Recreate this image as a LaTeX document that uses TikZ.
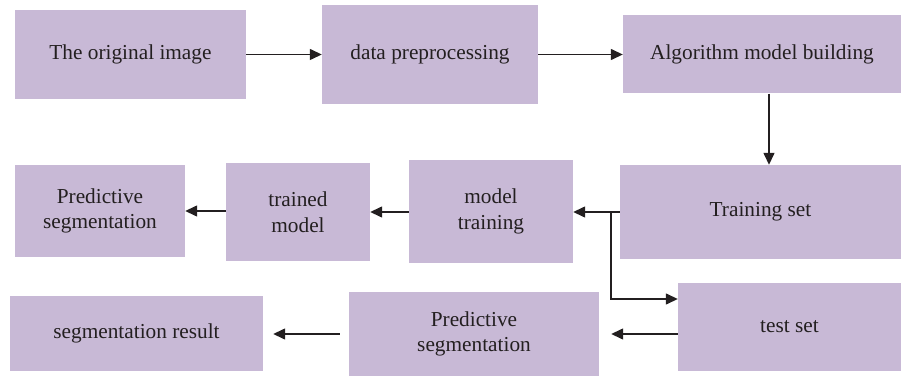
\documentclass[tikz,border=0pt]{standalone}
\usepackage{fontspec}
\setmainfont{Liberation Serif}
\usetikzlibrary{arrows.meta, positioning}
\definecolor{boxfill}{HTML}{C8B9D6}
\definecolor{inkdark}{HTML}{231F20}

\begin{document}
\begin{tikzpicture}[x=1pt, y=-1pt]
			\tikzset {box/.style={fill=boxfill, text=inkdark, align=center, inner sep=0pt, font=\fontsize{21.3}{25.5}\selectfont},
				arr/.style={-{Triangle[length=12pt, width=11pt]}, line width=1.4pt, draw=inkdark} }

			\useasboundingbox (0,0) rectangle (903,377);

			\node[box, minimum width=231pt, minimum height=89pt] (orig) at (130.5,54.5) {The original image};
			\node[box, minimum width=216pt, minimum height=99pt] (prep) at (430,54.5) {data preprocessing};
			\node[box, minimum width=278pt, minimum height=78pt] (algo) at (762,54.5) {Algorithm model building};
			\node[box, minimum width=281pt, minimum height=94pt] (train) at (760.5,212) {Training set};
			\node[box, minimum width=164pt, minimum height=103pt] (mtrain) at (491,211.5) {model\\training};
			\node[box, minimum width=144pt, minimum height=98pt] (trained) at (298,212) {trained\\model};
			\node[box, minimum width=170pt, minimum height=92pt] (pred1) at (100,211) {Predictive\\segmentation};
			\node[box, minimum width=223pt, minimum height=88pt] (test) at (789.5,327) {test set};
			\node[box, minimum width=250pt, minimum height=84pt] (pred2) at (474,334) {Predictive\\segmentation};
			\node[box, minimum width=253pt, minimum height=75pt] (result) at (136.5,333.5) {segmentation result};

			\coordinate[left=9pt of train.west] (split);

			\draw[arr] (orig) -- (prep);
			\draw[arr] (prep) -- (prep -| algo.west);
			\draw[arr] ([xshift=7pt]algo.south) -- ([xshift=7pt]algo.south |- train.north);
			\draw[arr] (train.west) -- (train.west -| mtrain.east);
			\draw[arr] (split) |- ([yshift=28pt]test.west);
			\draw[arr] (test.west |- pred2) -- ([xshift=12pt]pred2.east);
			\draw[arr] ([xshift=-9pt]pred2.west) -- ([xshift=10pt]pred2.west -| result.east);
			\draw[arr] (mtrain.west |- trained) -- (trained.east);
			\draw[arr] (trained.west |- pred1) -- (pred1.east);
		\end{tikzpicture}
\end{document}
